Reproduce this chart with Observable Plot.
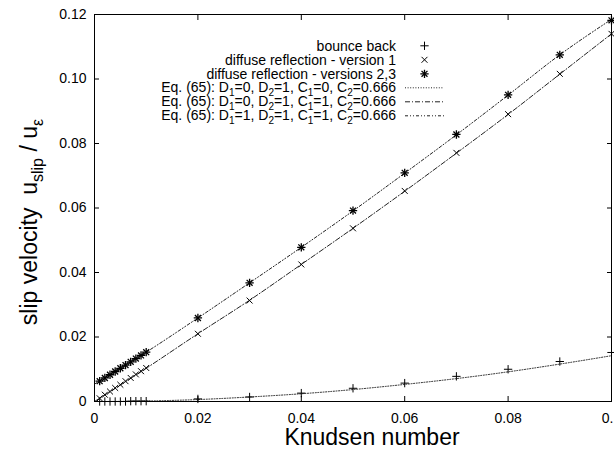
<!DOCTYPE html>
<html><head><meta charset="utf-8">
<script src="https://cdn.jsdelivr.net/npm/d3@7"></script>
<script src="https://cdn.jsdelivr.net/npm/@observablehq/plot@0.6"></script>
<style>html,body{margin:0;padding:0;background:#fff;overflow:hidden;}</style>
</head><body><div id="chart"></div>
<script>
// Knudsen numbers of the simulation points
const knPoints = [0.001,0.002,0.003,0.004,0.005,0.006,0.007,0.008,0.009,0.010,
                  0.02,0.03,0.04,0.05,0.06,0.07,0.08,0.09,0.10];
const bounceBack = [0,0,0,0,0,0,0.0001,0.0001,0.0001,0.0001,
                    0.0008,0.0014,0.0026,0.0041,0.0057,0.0078,0.0100,0.0124,0.0152];
const diffuseV1 = [0.0010,0.0021,0.0031,0.0042,0.0052,0.0063,0.0073,0.0084,0.0094,0.0104,
                   0.0210,0.0313,0.0425,0.0537,0.0653,0.0771,0.0891,0.1016,0.1140];
const diffuseV23 = [0.0063,0.0073,0.0083,0.0093,0.0103,0.0113,0.0123,0.0133,0.0143,0.0153,
                    0.0259,0.0368,0.0478,0.0592,0.0709,0.0828,0.0951,0.1075,0.1182];
// Eq. (65) curves
const knCurve = [0,0.005,0.01,0.02,0.03,0.04,0.05,0.06,0.07,0.08,0.09,0.10];
const eqA = [0,0.00004,0.00015,0.0006,0.0014,0.0024,0.0037,0.0053,0.0071,0.0092,0.0116,0.0142];
const eqB = [0,0.0051,0.0103,0.0210,0.0314,0.0425,0.0537,0.0652,0.0770,0.0890,0.1015,0.1140];
const eqC = [0.0054,0.0103,0.0153,0.0259,0.0368,0.0478,0.0591,0.0708,0.0827,0.0950,0.1075,0.1185];
// ticks
const xTicks = [0,0.02,0.04,0.06,0.08,0.1];
const xTickLabels = ["0","0.02","0.04","0.06","0.08","0.1"];
const yTicks = [0,0.02,0.04,0.06,0.08,0.10,0.12];
const yTickLabels = ["0","0.02","0.04","0.06","0.08","0.10","0.12"];

const pts = knPoints.map((k,i)=>({k, bb:bounceBack[i], d1:diffuseV1[i], d23:diffuseV23[i]}));
const curve = knCurve.map((k,i)=>({k, a:eqA[i], b:eqB[i], c:eqC[i]}));

const dashA = "1,1.6", dashB = "5,2,1,2", dashC = "3,2,1,2,1,2";
const R = 2.8;
const font = "'Liberation Sans', Arial, Helvetica, sans-serif";

const plot = Plot.plot({
  width: 614, height: 452,
  marginLeft: 94, marginRight: 3, marginTop: 14, marginBottom: 51,
  x: {domain: [0, 0.1]},
  y: {domain: [0, 0.12]},
  style: {fontFamily: font, fontSize: "14px", color: "#000", background: "#fff", overflow: "visible"},
  marks: [
    Plot.line(curve, {x: "k", y: "a", stroke: "#222", strokeWidth: 1, strokeDasharray: dashA, curve: "monotone-x"}),
    Plot.line(curve, {x: "k", y: "b", stroke: "#222", strokeWidth: 1, strokeDasharray: dashB, curve: "monotone-x"}),
    Plot.line(curve, {x: "k", y: "c", stroke: "#222", strokeWidth: 1, strokeDasharray: dashC, curve: "monotone-x"}),
    Plot.dot(pts, {x: "k", y: "bb", symbol: "plus", r: R, stroke: "#000", strokeWidth: 1}),
    Plot.dot(pts, {x: "k", y: "d1", symbol: "times", r: R, stroke: "#000", strokeWidth: 1}),
    Plot.dot(pts, {x: "k", y: "d23", symbol: "plus", r: R, stroke: "#000", strokeWidth: 1.3}),
    Plot.dot(pts, {x: "k", y: "d23", symbol: "times", r: R, stroke: "#000", strokeWidth: 1.3}),
    Plot.frame({stroke: "#000", strokeWidth: 1}),
    Plot.axisX(xTicks, {anchor: "bottom", tickSize: 0, tickPadding: 12, fontSize: 14, tickFormat: d => xTickLabels[xTicks.indexOf(d)], label: null}),
    Plot.axisY(yTicks, {anchor: "left", tickSize: 0, tickPadding: 8, fontSize: 14, tickFormat: d => yTickLabels[yTicks.indexOf(d)], label: null}),
    Plot.axisX(xTicks, {anchor: "bottom", tickSize: -5, tickFormat: () => "", label: null}),
    Plot.axisX(xTicks, {anchor: "top", tickSize: -5, tickFormat: () => "", label: null}),
    Plot.axisY(yTicks, {anchor: "left", tickSize: -5, tickFormat: () => "", label: null}),
    Plot.axisY(yTicks, {anchor: "right", tickSize: -5, tickFormat: () => "", label: null})
  ]
});
document.getElementById("chart").appendChild(plot);

const svg = d3.select(plot);
// axis titles
svg.append("text").attr("x", 372).attr("y", 445).attr("text-anchor", "middle")
  .attr("font-family", font).attr("font-size", 23).attr("fill", "#000").text("Knudsen number");
const yl = svg.append("text").attr("transform", "translate(37,222) rotate(-90)").attr("text-anchor", "middle")
  .attr("font-family", font).attr("font-size", 23).attr("fill", "#000");
yl.append("tspan").text("slip velocity\u00a0\u00a0u");
yl.append("tspan").attr("font-size", 16).attr("dy", 6).text("slip");
yl.append("tspan").attr("dy", -6).text(" / u");
yl.append("tspan").attr("font-size", 16).attr("dy", 6).text("\u03b5");

// legend
const lg = svg.append("g").attr("font-family", font).attr("font-size", 14).attr("fill", "#000");
const rowY = i => 45.8 + 14 * i;
const plain = ["bounce back", "diffuse reflection - version 1", "diffuse reflection - versions 2,3"];
plain.forEach((t, i) => lg.append("text").attr("x", 396).attr("y", rowY(i) + 5).attr("text-anchor", "end").text(t));
const eqs = [["0","1","0","0.666"],["0","1","1","0.666"],["1","1","1","0.666"]];
eqs.forEach((v, j) => {
  const t = lg.append("text").attr("x", 396).attr("y", rowY(3 + j) + 4).attr("text-anchor", "end");
  const parts = [["Eq. (65): D", "1", "=" + v[0] + ", D"], [null, "2", "=" + v[1] + ", C"], [null, "1", "=" + v[2] + ", C"], [null, "2", "=" + v[3]]];
  parts.forEach(([pre, sub, post]) => {
    if (pre) t.append("tspan").text(pre);
    t.append("tspan").attr("font-size", 10).attr("dy", 4).text(sub);
    t.append("tspan").attr("dy", -4).text(post);
  });
});
const symSize = Math.PI * R * R;
const symRow = (s, i, sw) => lg.append("path").attr("d", d3.symbol(s, symSize)()).attr("transform", `translate(424.5,${rowY(i)})`)
  .attr("fill", "none").attr("stroke", "#000").attr("stroke-width", sw);
symRow(d3.symbolPlus, 0, 1);
symRow(d3.symbolTimes, 1, 1);
symRow(d3.symbolPlus, 2, 1.3);
symRow(d3.symbolTimes, 2, 1.3);
[dashA, dashB, dashC].forEach((d, j) => lg.append("line").attr("x1", 405).attr("x2", 444)
  .attr("y1", rowY(3 + j)).attr("y2", rowY(3 + j)).attr("stroke", "#222").attr("stroke-width", 1).attr("stroke-dasharray", d));
</script>
</body></html>
